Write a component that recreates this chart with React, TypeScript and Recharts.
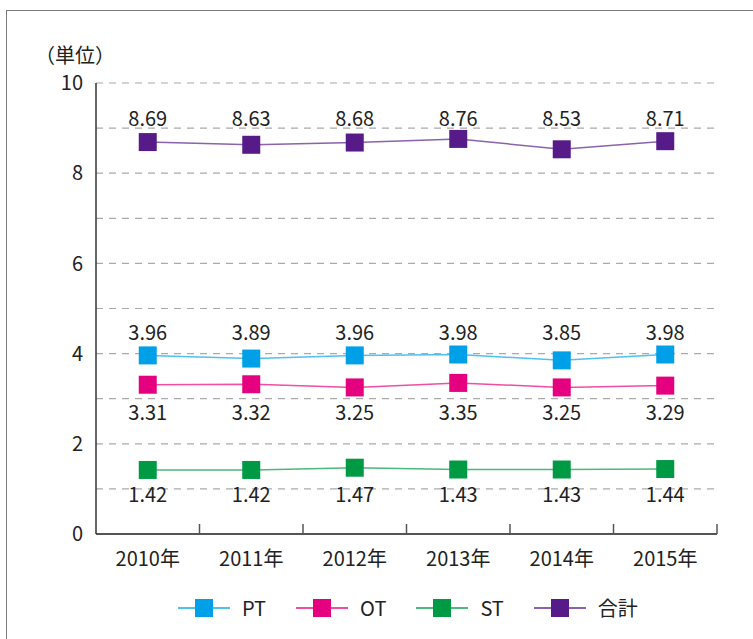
import { LineChart, Line, XAxis, YAxis, ReferenceLine, LabelList } from "recharts";

const years = ["2010年", "2011年", "2012年", "2013年", "2014年", "2015年"];
const ptValues = [3.96, 3.89, 3.96, 3.98, 3.85, 3.98];
const otValues = [3.31, 3.32, 3.25, 3.35, 3.25, 3.29];
const stValues = [1.42, 1.42, 1.47, 1.43, 1.43, 1.44];
const totalValues = [8.69, 8.63, 8.68, 8.76, 8.53, 8.71];
const yTicks = [0, 2, 4, 6, 8, 10];
const gridValues = [1, 2, 3, 4, 5, 6, 7, 8, 9, 10];

const series = [
  { key: "pt", name: "PT", fill: "#00a0e9", line: "#4fc1ef" },
  { key: "ot", name: "OT", fill: "#e4007f", line: "#ee4fa2" },
  { key: "st", name: "ST", fill: "#009944", line: "#4db87c" },
  { key: "total", name: "合計", fill: "#561b88", line: "#8a62ad" },
];

// value labels sit on one row per series (y in axis units)
const labelRows: Record<string, number> = { pt: 4.46, ot: 2.68, st: 0.86, total: 9.2 };

const data = years.map((year, i) => ({
  year,
  pt: ptValues[i],
  ot: otValues[i],
  st: stValues[i],
  total: totalValues[i],
}));

const W = 753;
const H = 639;
const plotLeft = 96;
const plotRight = 717;
const plotTop = 83;
const plotBottom = 534;
const xAxisHeight = 30;
const band = (plotRight - plotLeft) / years.length;
const font = '"Noto Sans CJK JP", "Noto Sans", sans-serif';

// year label plus the short upward tick on the band's right edge
function YearTick(props: any) {
  const { x, y, payload } = props;
  const edge = x + band / 2;
  return (
    <g>
      <line x1={edge} y1={y} x2={edge} y2={y - 10} stroke="#555" strokeWidth={1.5} />
      <text x={x} y={y + 32} textAnchor="middle" fontSize={20} fill="#222">
        {payload.value}
      </text>
    </g>
  );
}

export default function App() {
  return (
    <div
      style={{
        position: "fixed",
        left: 0,
        top: 0,
        width: W,
        height: H,
        overflow: "hidden",
        background: "#fff",
        fontFamily: font,
      }}
    >
      <div
        style={{
          position: "absolute",
          left: 6,
          top: 10,
          width: W + 40,
          height: H + 40,
          border: "1.5px solid #7a7a7a",
        }}
      />
      <div style={{ position: "absolute", left: 35, top: 40, fontSize: 20, color: "#222" }}>
        （単位）
      </div>

      <div style={{ position: "absolute", left: 0, top: 0 }}>
        <LineChart
          width={W}
          height={H}
          data={data}
          margin={{ top: plotTop, right: W - plotRight, bottom: H - plotBottom - xAxisHeight, left: 0 }}
        >
          <XAxis
            dataKey="year"
            scale="band"
            height={xAxisHeight}
            stroke="#555"
            strokeWidth={2}
            tickLine={false}
            tickSize={0}
            tickMargin={0}
            tick={<YearTick />}
            interval={0}
          />
          <YAxis
            width={plotLeft}
            domain={[0, 10]}
            ticks={yTicks}
            stroke="#333"
            strokeWidth={1.5}
            tickLine={false}
            tickSize={0}
            tickMargin={13}
            tick={{ fontSize: 20, fill: "#222" }}
          />
          {gridValues.map((v) => (
            <ReferenceLine key={v} y={v} stroke="#aaa" strokeWidth={1.2} strokeDasharray="7 6" />
          ))}
          {series.map((s) => (
            <Line
              key={s.key}
              dataKey={s.key}
              name={s.name}
              stroke={s.line}
              strokeWidth={1.5}
              isAnimationActive={false}
              dot={(p: any) => (
                <rect key={p.index} x={p.cx - 9} y={p.cy - 9} width={18} height={18} fill={s.fill} />
              )}
              activeDot={false}
            />
          ))}
          {series.map((s) => (
            <Line
              key={s.key + "-labels"}
              dataKey={() => labelRows[s.key]}
              stroke="none"
              dot={false}
              activeDot={false}
              legendType="none"
              isAnimationActive={false}
            >
              <LabelList
                dataKey={s.key}
                position="center"
                fontSize={20}
                fill="#222"
                formatter={(v: any) => Number(v).toFixed(2)}
              />
            </Line>
          ))}
        </LineChart>
      </div>

      <div
        style={{
          position: "absolute",
          left: 178,
          top: 593,
          display: "flex",
          alignItems: "center",
          fontSize: 20,
          color: "#222",
        }}
      >
        {series.map((s) => (
          <div key={s.key} style={{ display: "flex", alignItems: "center", marginRight: 30 }}>
            <svg width={52} height={20}>
              <line x1={0} y1={10} x2={52} y2={10} stroke={s.line} strokeWidth={2} />
              <rect x={17} y={1} width={18} height={18} fill={s.fill} />
            </svg>
            <span style={{ marginLeft: 12 }}>{s.name}</span>
          </div>
        ))}
      </div>
    </div>
  );
}
